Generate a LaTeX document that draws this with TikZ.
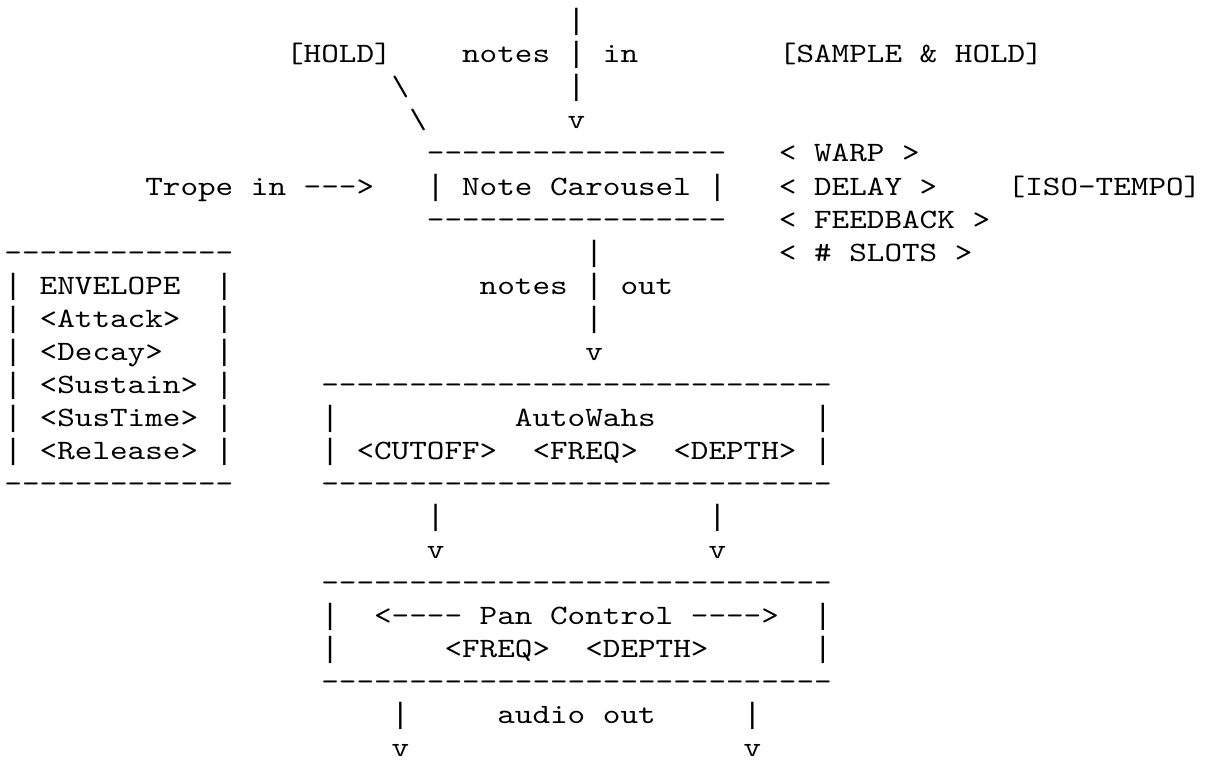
\documentclass[tikz,border=0pt]{standalone}
\usepackage{fontspec}
\setmonofont{lmmono10-regular}[Extension=.otf, FakeStretch=1.1973]
\newfontfamily\barfont{Liberation Mono}
\newcommand\asciibar{{\barfont\fontsize{29.33pt}{33pt}\selectfont|}}
\tikzset{
  ascii/.style={anchor=base west, inner sep=0pt, outer sep=0pt,
    font=\ttfamily\fontsize{28pt}{33pt}\selectfont}
}
\begin{document}
\begin{tikzpicture}[x=17.6pt, y=-33pt, every node/.style={ascii}]
  \useasboundingbox ([shift={(-4.5pt,30pt)}]0,0) rectangle ++(1206pt,-762pt);

  % notes in
  \node (inbar) at (32,0) {\asciibar};
  \node (hold) at (16,1) {[HOLD]};
  \node (notesin) at (26,1) {notes \asciibar\ in};
  \node (sah) at (44,1) {[SAMPLE \& HOLD]};
  \node (holdslash1) at (22,2) {\textbackslash};
  \node (inbar2) at (32,2) {\asciibar};
  \node (holdslash2) at (23,3) {\textbackslash};
  \node (inhead) at (32,3) {v};

  % note carousel
  \node (ctop) at (24,4) {-----------------};
  \node (warp) at (44,4) {< WARP >};
  \node (trope) at (8,5) {Trope in --->};
  \node (carousel) at (24,5) {\asciibar\ Note Carousel \asciibar};
  \node (delay) at (44,5) {< DELAY >};
  \node (isotempo) at (57,5) {[ISO-TEMPO]};
  \node (cbot) at (24,6) {-----------------};
  \node (feedback) at (44,6) {< FEEDBACK >};
  \node (slots) at (44,7) {< \# SLOTS >};

  % envelope
  \node (etop) at (0,7) {-------------};
  \node (envelope) at (0,8) {\asciibar\ ENVELOPE~~\asciibar};
  \node (attack) at (0,9) {\asciibar\ <Attack>~~\asciibar};
  \node (decay) at (0,10) {\asciibar\ <Decay>~~~\asciibar};
  \node (sustain) at (0,11) {\asciibar\ <Sustain> \asciibar};
  \node (sustime) at (0,12) {\asciibar\ <SusTime> \asciibar};
  \node (release) at (0,13) {\asciibar\ <Release> \asciibar};
  \node (ebot) at (0,14) {-------------};

  % notes out
  \node (outbar) at (33,7) {\asciibar};
  \node (notesout) at (27,8) {notes \asciibar\ out};
  \node (outbar2) at (33,9) {\asciibar};
  \node (outhead) at (33,10) {v};

  % autowahs
  \node (wtop) at (18,11) {-----------------------------};
  \node (wl1) at (18,12) {\asciibar};
  \node (autowahs) at (29,12) {AutoWahs};
  \node (wr1) at (46,12) {\asciibar};
  \node (wl2) at (18,13) {\asciibar};
  \node (cutoff) at (20,13) {<CUTOFF>};
  \node (wfreq) at (30,13) {<FREQ>};
  \node (wdepth) at (38,13) {<DEPTH>};
  \node (wr2) at (46,13) {\asciibar};
  \node (wbot) at (18,14) {-----------------------------};
  \node (lbar) at (24,15) {\asciibar};
  \node (rbar) at (40,15) {\asciibar};
  \node (lhead) at (24,16) {v};
  \node (rhead) at (40,16) {v};

  % pan control
  \node (ptop) at (18,17) {-----------------------------};
  \node (pl1) at (18,18) {\asciibar};
  \node (pan) at (21,18) {<---- Pan Control ---->};
  \node (pr1) at (46,18) {\asciibar};
  \node (pl2) at (18,19) {\asciibar};
  \node (pfreq) at (25,19) {<FREQ>};
  \node (pdepth) at (33,19) {<DEPTH>};
  \node (pr2) at (46,19) {\asciibar};
  \node (pbot) at (18,20) {-----------------------------};
  \node (aoutl) at (22,21) {\asciibar};
  \node (audio) at (28,21) {audio out};
  \node (aoutr) at (42,21) {\asciibar};
  \node (aheadl) at (22,22) {v};
  \node (aheadr) at (42,22) {v};
\end{tikzpicture}
\end{document}
